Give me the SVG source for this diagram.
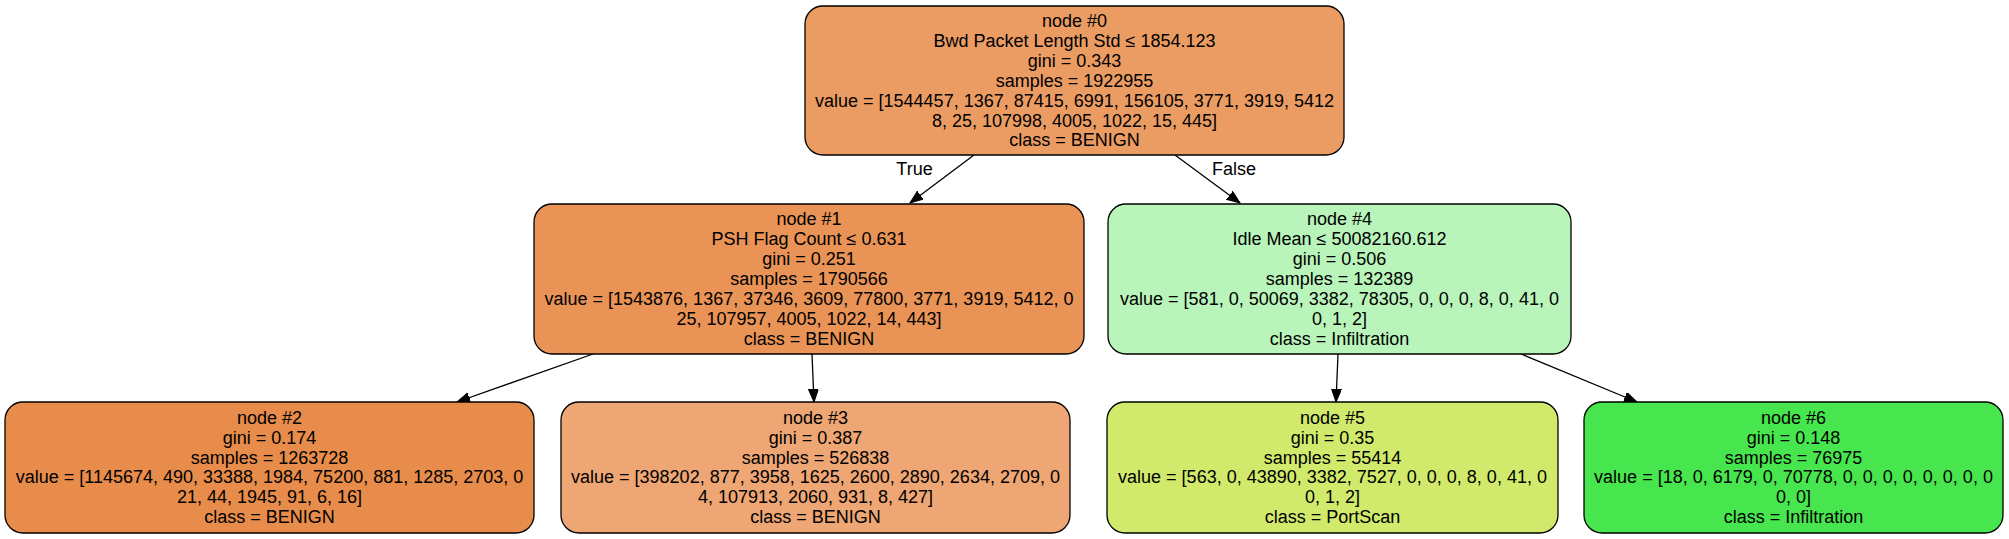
<svg xmlns="http://www.w3.org/2000/svg" width="2009" height="539" viewBox="0 0 2009 539">
<style>
.n{stroke:#000;stroke-width:1.3}
text{font-family:"Liberation Sans",Arial,sans-serif;font-size:18px;fill:#000;text-anchor:middle}
.e{stroke:#000;stroke-width:1.3;fill:none;marker-end:url(#ah)}
</style>
<defs>
<marker id="ah" markerUnits="userSpaceOnUse" markerWidth="14" markerHeight="12" refX="13" refY="5" orient="auto">
<path d="M0,0 L13,5 L0,10 Z" fill="#000" stroke="#000" stroke-width="1"/>
</marker>
</defs>
<rect width="2009" height="539" fill="#fff"/>
<g id="connectors">
<path class="e" d="M974,155 L910,203"/>
<path class="e" d="M1175,155 L1240,203"/>
<path class="e" d="M593,354 L457,402"/>
<path class="e" d="M812,354 L814,402"/>
<path class="e" d="M1338,354 L1336,402"/>
<path class="e" d="M1521,354 L1637,402"/>
<text x="914.5" y="175">True</text>
<text x="1234" y="175">False</text>
</g>
<g id="node0">
<rect class="n" x="805" y="6" width="539" height="149" rx="18" fill="#eb9c63"/>
<text x="1074.5" y="27">node #0</text>
<text x="1074.5" y="46.9">Bwd Packet Length Std ≤ 1854.123</text>
<text x="1074.5" y="66.8">gini = 0.343</text>
<text x="1074.5" y="86.7">samples = 1922955</text>
<text x="1074.5" y="106.6">value = [1544457, 1367, 87415, 6991, 156105, 3771, 3919, 5412</text>
<text x="1074.5" y="126.5">8, 25, 107998, 4005, 1022, 15, 445]</text>
<text x="1074.5" y="146.4">class = BENIGN</text>
</g>
<g id="node1">
<rect class="n" x="534" y="204" width="550" height="150" rx="18" fill="#e99356"/>
<text x="809" y="225.3">node #1</text>
<text x="809" y="245.2">PSH Flag Count ≤ 0.631</text>
<text x="809" y="265.1">gini = 0.251</text>
<text x="809" y="285">samples = 1790566</text>
<text x="809" y="304.9">value = [1543876, 1367, 37346, 3609, 77800, 3771, 3919, 5412, 0</text>
<text x="809" y="324.8">25, 107957, 4005, 1022, 14, 443]</text>
<text x="809" y="344.7">class = BENIGN</text>
</g>
<g id="node4">
<rect class="n" x="1108" y="204" width="463" height="150" rx="18" fill="#b9f5ba"/>
<text x="1339.5" y="225.3">node #4</text>
<text x="1339.5" y="245.2">Idle Mean ≤ 50082160.612</text>
<text x="1339.5" y="265.1">gini = 0.506</text>
<text x="1339.5" y="285">samples = 132389</text>
<text x="1339.5" y="304.9">value = [581, 0, 50069, 3382, 78305, 0, 0, 0, 8, 0, 41, 0</text>
<text x="1339.5" y="324.8">0, 1, 2]</text>
<text x="1339.5" y="344.7">class = Infiltration</text>
</g>
<g id="node2">
<rect class="n" x="5" y="402" width="529" height="131" rx="18" fill="#e78c4a"/>
<text x="269.5" y="423.7">node #2</text>
<text x="269.5" y="443.6">gini = 0.174</text>
<text x="269.5" y="463.5">samples = 1263728</text>
<text x="269.5" y="483.4">value = [1145674, 490, 33388, 1984, 75200, 881, 1285, 2703, 0</text>
<text x="269.5" y="503.3">21, 44, 1945, 91, 6, 16]</text>
<text x="269.5" y="523.2">class = BENIGN</text>
</g>
<g id="node3">
<rect class="n" x="561" y="402" width="509" height="131" rx="18" fill="#eea674"/>
<text x="815.5" y="423.7">node #3</text>
<text x="815.5" y="443.6">gini = 0.387</text>
<text x="815.5" y="463.5">samples = 526838</text>
<text x="815.5" y="483.4">value = [398202, 877, 3958, 1625, 2600, 2890, 2634, 2709, 0</text>
<text x="815.5" y="503.3">4, 107913, 2060, 931, 8, 427]</text>
<text x="815.5" y="523.2">class = BENIGN</text>
</g>
<g id="node5">
<rect class="n" x="1107" y="402" width="451" height="131" rx="18" fill="#d1ea6b"/>
<text x="1332.5" y="423.7">node #5</text>
<text x="1332.5" y="443.6">gini = 0.35</text>
<text x="1332.5" y="463.5">samples = 55414</text>
<text x="1332.5" y="483.4">value = [563, 0, 43890, 3382, 7527, 0, 0, 0, 8, 0, 41, 0</text>
<text x="1332.5" y="503.3">0, 1, 2]</text>
<text x="1332.5" y="523.2">class = PortScan</text>
</g>
<g id="node6">
<rect class="n" x="1584" y="402" width="419" height="131" rx="18" fill="#48e64e"/>
<text x="1793.5" y="423.7">node #6</text>
<text x="1793.5" y="443.6">gini = 0.148</text>
<text x="1793.5" y="463.5">samples = 76975</text>
<text x="1793.5" y="483.4">value = [18, 0, 6179, 0, 70778, 0, 0, 0, 0, 0, 0, 0, 0</text>
<text x="1793.5" y="503.3">0, 0]</text>
<text x="1793.5" y="523.2">class = Infiltration</text>
</g>
</svg>
